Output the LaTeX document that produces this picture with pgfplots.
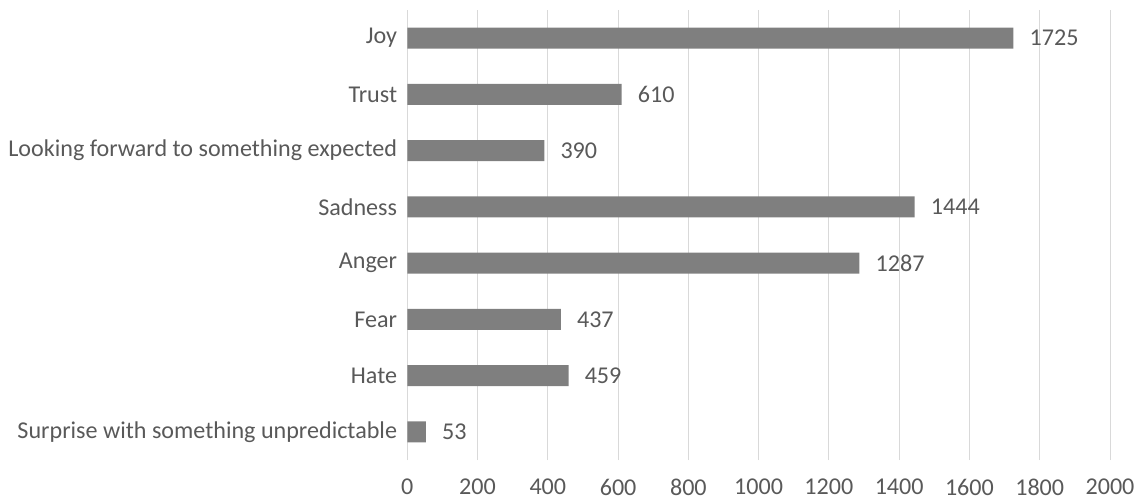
\documentclass[border=0pt]{standalone}
\usepackage{fontspec}
\setmainfont{Carlito}
\usepackage{pgfplots}
\pgfplotsset{compat=1.18}
\definecolor{bargray}{HTML}{7F7F7F}
\definecolor{txtgray}{HTML}{595959}
\definecolor{gridgray}{HTML}{D9D9D9}
\begin{document}
\begin{tikzpicture}
\begin{axis}[
  at={(0,0)}, anchor=south west,
  scale only axis, width=702.7bp, height=450bp,
  xbar, bar width=21bp,
  xmin=0, xmax=2000, ymin=-0.5, ymax=7.5,
  xtick={0,200,...,2000},
  ytick={0,...,7},
  yticklabels={Surprise with something unpredictable, Hate, Fear, Anger, Sadness, Looking forward to something expected, Trust, Joy},
  axis line style={draw=none},
  major tick length=0pt,
  xmajorgrids, grid style={gridgray, line width=1bp},
  tick label style={text=txtgray, font=\fontsize{24.2}{28}\selectfont, inner sep=0pt},
  yticklabel style={xshift=-10bp},
  xticklabel style={yshift=-19bp},
  /pgf/number format/assume math mode=true,
  /pgf/number format/1000 sep={},
  point meta=x,
  nodes near coords,
  nodes near coords style={anchor=west, text=txtgray, inner sep=0pt, xshift=16bp, font=\fontsize{24.2}{28}\selectfont},
]
\addplot[fill=bargray, draw=none] coordinates {
  (53,0) (459,1) (437,2) (1287,3) (1444,4) (390,5) (610,6) (1725,7)
};
\end{axis}
\pgfresetboundingbox
\useasboundingbox (-407.3bp,-42bp) rectangle (732.7bp,460bp);
\end{tikzpicture}
\end{document}
